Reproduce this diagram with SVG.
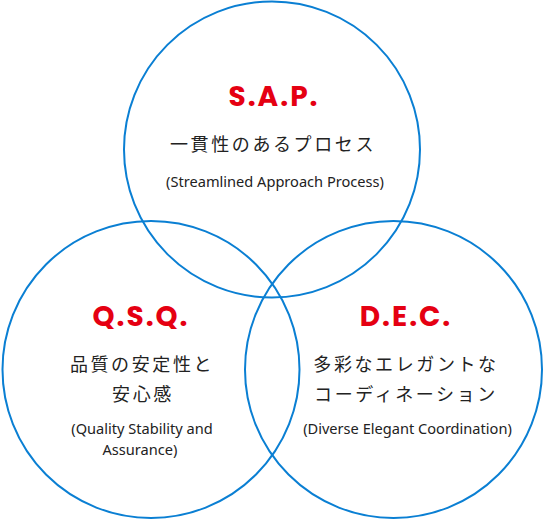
<svg xmlns="http://www.w3.org/2000/svg" width="545" height="520" viewBox="0 0 545 520">
<style>
.c{fill:none;stroke:#0a7fd3;stroke-width:2}
.h{font-family:"Poppins","Roboto","Noto Sans",sans-serif;font-weight:700;font-size:28px;fill:#e50012;text-anchor:middle;letter-spacing:2px}
.j{font-family:"Noto Sans CJK JP","Noto Sans",sans-serif;font-size:18px;fill:#222;text-anchor:middle;letter-spacing:2.6px}
.e{font-family:"Noto Sans","Open Sans",sans-serif;font-size:14.6px;fill:#222;text-anchor:middle}
</style>
<rect width="545" height="520" fill="#fff"/>
<g id="sap">
<circle class="c" cx="272" cy="149.5" r="148"/>
<text class="h" x="274" y="106">S.A.P.</text>
<text class="j" x="273" y="151">一貫性のあるプロセス</text>
<text class="e" x="275" y="187">(Streamlined Approach Process)</text>
</g>
<g id="qsq">
<circle class="c" cx="151" cy="369.5" r="148.5"/>
<text class="h" x="141" y="326">Q.S.Q.</text>
<text class="j" x="142" y="371">品質の安定性と</text>
<text class="j" x="143" y="401">安心感</text>
<text class="e" x="142" y="434">(Quality Stability and</text>
<text class="e" x="140" y="455">Assurance)</text>
</g>
<g id="dec">
<circle class="c" cx="393.5" cy="369.5" r="148.5"/>
<text class="h" x="406" y="326">D.E.C.</text>
<text class="j" x="406" y="371">多彩なエレガントな</text>
<text class="j" x="406" y="401">コーディネーション</text>
<text class="e" x="407.5" y="434">(Diverse Elegant Coordination)</text>
</g>
</svg>
